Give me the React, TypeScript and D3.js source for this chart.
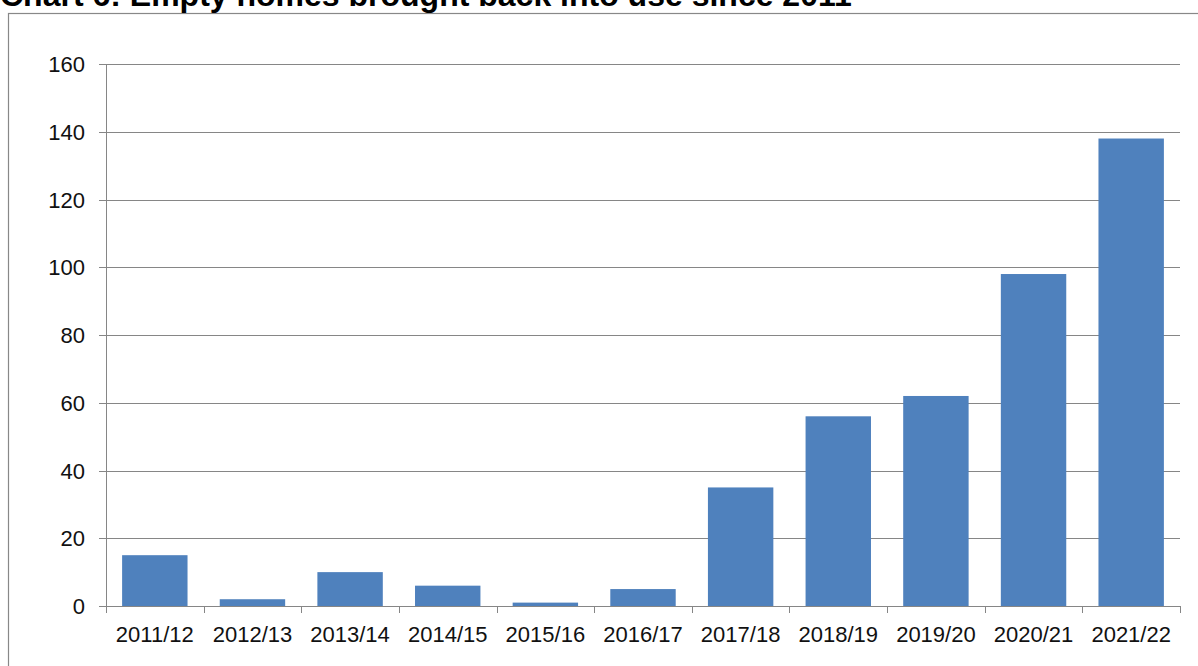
import React from "react";
import * as d3 from "d3";

const categories = ["2011/12","2012/13","2013/14","2014/15","2015/16","2016/17","2017/18","2018/19","2019/20","2020/21","2021/22"];
const values = [15, 2, 10, 6, 1, 5, 35, 56, 62, 98, 138];
const yTicks = [0, 20, 40, 60, 80, 100, 120, 140, 160];
const title = "Chart 6: Empty homes brought back into use since 2011";

export default function App() {
  const W = 1198, H = 666;
  const left = 106, right = 1180, top = 64, bottom = 606;
  const x = d3.scaleBand<string>().domain(categories).range([left, right]).paddingInner(0.33).paddingOuter(0.165);
  const y = d3.scaleLinear().domain([0, 160]).range([bottom, top]);
  const band = (right - left) / categories.length;
  const grid = "#868686";
  return (
    <svg width={W} height={H} style={{ position: "fixed", left: 0, top: 0, background: "#fff" }} fontFamily="Liberation Sans, Arial, sans-serif">
      <rect x={8.5} y={13.5} width={W + 10} height={H + 10} fill="#fff" stroke="#888" strokeWidth={1.2} />
      <text x={0} y={6} fontSize={32} fontWeight="bold" fill="#000">{title}</text>
      {yTicks.map(t => (
        <g key={t}>
          <line x1={99} x2={right} y1={Math.round(y(t)) + 0.5} y2={Math.round(y(t)) + 0.5} stroke={grid} strokeWidth={1} />
          <text x={85} y={y(t) + 8} fontSize={22} textAnchor="end" fill="#111">{t}</text>
        </g>
      ))}
      <line x1={left + 0.5} x2={left + 0.5} y1={top} y2={bottom} stroke={grid} strokeWidth={1} />
      {categories.map((c, i) => (
        <line key={c} x1={Math.round(left + band * (i + 1)) + 0.5} x2={Math.round(left + band * (i + 1)) + 0.5} y1={bottom} y2={bottom + 7} stroke={grid} />
      ))}
      <line x1={left + 0.5} x2={left + 0.5} y1={bottom} y2={bottom + 7} stroke={grid} />
      {categories.map((c, i) => (
        <rect key={c} x={x(c)} y={y(values[i])} width={x.bandwidth()} height={bottom - y(values[i])} fill="#4F81BD" />
      ))}
      {categories.map((c) => (
        <text key={c} x={(x(c) as number) + x.bandwidth() / 2} y={642} fontSize={22} textAnchor="middle" fill="#111">{c}</text>
      ))}
    </svg>
  );
}
